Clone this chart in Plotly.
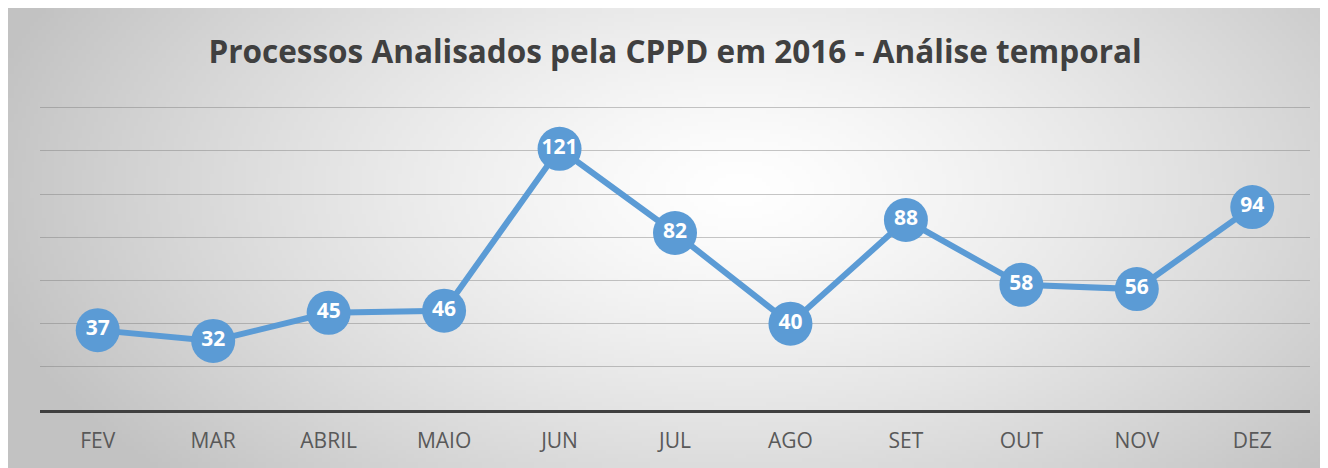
import base64, struct, zlib
import numpy as np
import plotly.graph_objects as go

months = ["FEV", "MAR", "ABRIL", "MAIO", "JUN", "JUL", "AGO", "SET", "OUT", "NOV", "DEZ"]
values = [37, 32, 45, 46, 121, 82, 40, 88, 58, 56, 94]
title_text = "Processos Analisados pela CPPD em 2016 - Análise temporal"

W, H = 1320, 460
L, R, T, B = 32, 18, 89, 58
YMAX = 145


def radial_png(w, h, cx, cy, rx, ry, inner=255, outer=194):
    yy, xx = np.mgrid[0:h, 0:w].astype(float)
    r = np.sqrt(((xx - cx) / rx) ** 2 + ((yy - cy) / ry) ** 2)
    r = np.clip(r, 0, 1)
    v = inner - (inner - outer) * r ** 1.3
    img = np.clip(v, 0, 255).astype(np.uint8)
    rgb = np.stack([img, img, img], axis=-1)
    raw = b"".join(b"\x00" + rgb[i].tobytes() for i in range(h))

    def chunk(tag, data):
        c = struct.pack(">I", len(data)) + tag + data
        return c + struct.pack(">I", zlib.crc32(tag + data) & 0xFFFFFFFF)

    png = b"\x89PNG\r\n\x1a\n"
    png += chunk(b"IHDR", struct.pack(">IIBBBBB", w, h, 8, 2, 0, 0, 0))
    png += chunk(b"IDAT", zlib.compress(raw, 9))
    png += chunk(b"IEND", b"")
    return "data:image/png;base64," + base64.b64encode(png).decode()


s = 4
gw, gh = W // s, H // s
bg = radial_png(gw, gh, 730 / s, 180 / s, 780 / s, 430 / s)

pw, ph = W - L - R, H - T - B

fig = go.Figure()
fig.add_trace(go.Scatter(
    x=months, y=values, mode="lines+markers+text",
    line=dict(color="#5B9BD5", width=6),
    marker=dict(size=44, color="#5B9BD5"),
    text=[str(v) for v in values], textposition="middle center",
    textfont=dict(family="Open Sans", size=21, color="white", weight="bold"),
    cliponaxis=False, hoverinfo="x+y",
))

fig.add_layout_image(dict(
    source=bg, xref="paper", yref="paper",
    x=-L / pw, y=(H - B) / ph,
    sizex=W / pw, sizey=H / ph,
    xanchor="left", yanchor="top", sizing="stretch", layer="below",
))

fig.update_layout(
    width=W, height=H,
    margin=dict(l=L, r=R, t=T, b=B),
    paper_bgcolor="#d0d0d0", plot_bgcolor="rgba(0,0,0,0)",
    showlegend=False,
    title=dict(text=title_text, x=0.5, xref="paper", y=1 - 44 / H, yanchor="middle",
               font=dict(family="Open Sans", size=31.5, color="#404040", weight="bold")),
    xaxis=dict(type="category", range=[-0.5, 10.5], showgrid=False,
               showline=True, linecolor="#404040", linewidth=3,
               ticks="", ticklabelstandoff=10,
               tickfont=dict(family="Open Sans", size=21, color="#595959"),
               fixedrange=True),
    yaxis=dict(range=[0, YMAX], dtick=20, showticklabels=False, zeroline=False,
               showgrid=True, gridcolor="rgba(120,120,120,0.42)", gridwidth=1.3,
               showline=False, ticks="", fixedrange=True),
)

fig.write_html("out.html")
